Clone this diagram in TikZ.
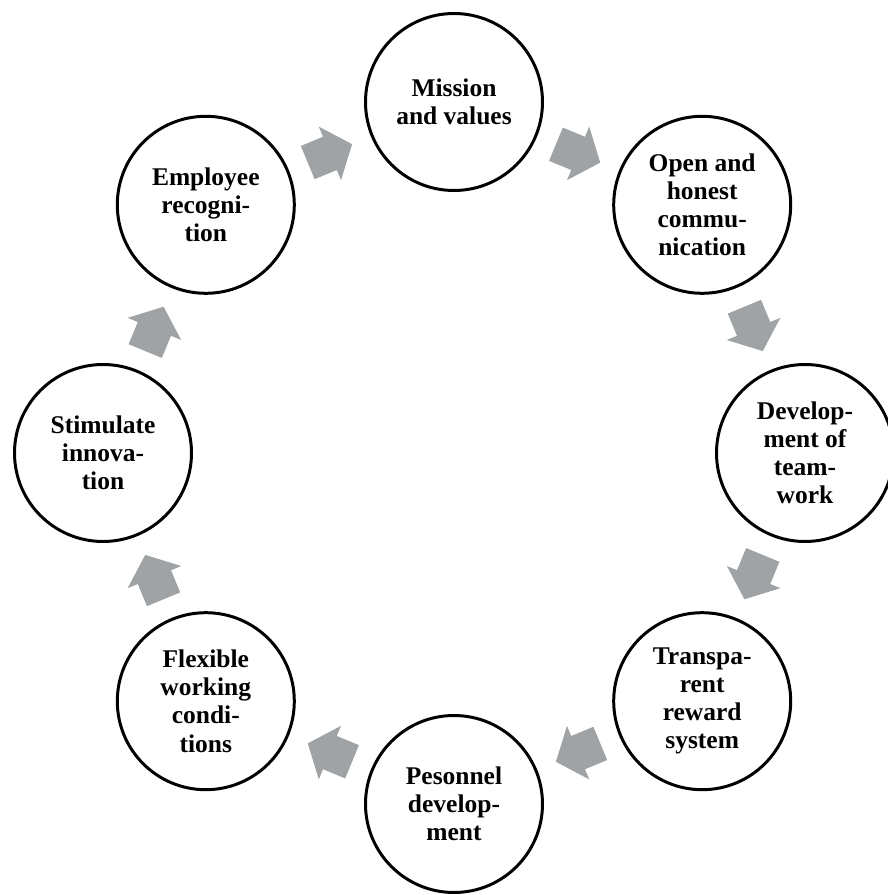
\documentclass[tikz,border=0pt]{standalone}
\usepackage{fontspec}
\setmainfont{Liberation Serif}
\usetikzlibrary{calc}
\definecolor{arrowgray}{RGB}{160,163,165}

\begin{document}
\begin{tikzpicture}[
   stage/.style={circle,draw,line width=1.7pt,minimum size=3.54cm,inner sep=0pt,
     align=center,font=\fontsize{14.5}{16}\selectfont\bfseries},
   flowarrow/.pic={\fill[arrowgray] (-0.48,-0.36) -- (0,-0.36) -- (0,-0.58) -- (0.48,0)
     -- (0,0.58) -- (0,0.36) -- (-0.48,0.36) -- cycle;},
   halfway/.style={pos=0.5,sloped,allow upside down}]
  \useasboundingbox (-9.08,-8.84) rectangle (8.68,9.06);
  % the eight stages, clockwise from the top
  \node[stage] (mis)  at (90:7.02)  {Mission\\and values};
  \node[stage] (com)  at (45:7.02)  {Open and\\honest\\commu-\\nication};
  \node[stage] (team) at (0:7.02)   {Develop-\\ment of\\team-\\work};
  \node[stage] (rew)  at (-45:7.02) {Transpa-\\rent\\reward\\system};
  \node[stage] (pers) at (-90:7.02) {Pesonnel\\develop-\\ment};
  \node[stage] (flex) at (-135:7.02){Flexible\\working\\condi-\\tions};
  \node[stage] (inno) at (180:7.02) {Stimulate\\innova-\\tion};
  \node[stage] (rec)  at (135:7.02) {Employee\\recogni-\\tion};
  % block arrows between neighbours
  \path (mis)  -- (com)  pic[halfway] {flowarrow};
  \path (com)  -- (team) pic[halfway] {flowarrow};
  \path (team) -- (rew)  pic[halfway] {flowarrow};
  \path (rew)  -- (pers) pic[halfway] {flowarrow};
  \path (pers) -- (flex) pic[halfway] {flowarrow};
  \path (flex) -- (inno) pic[halfway] {flowarrow};
  \path (inno) -- (rec)  pic[halfway] {flowarrow};
  \path (rec)  -- (mis)  pic[halfway] {flowarrow};
\end{tikzpicture}
\end{document}
